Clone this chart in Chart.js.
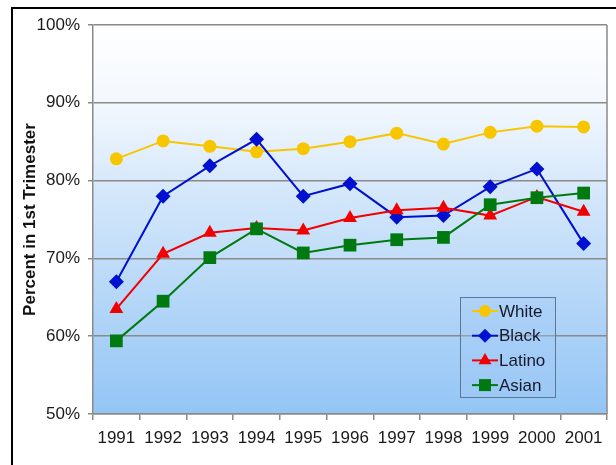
<!DOCTYPE html>
<html>
<head>
<meta charset="utf-8">
<script src="https://cdn.jsdelivr.net/npm/chart.js@4/dist/chart.umd.min.js"></script>
<style>
  html, body { margin: 0; padding: 0; background: #fff; }
  #wrap { position: relative; width: 616px; height: 465px; }
  #frame { position: absolute; left: 11px; top: 7px; width: 610px; height: 470px;
           border-top: 2px solid #000; border-left: 2px solid #000; box-sizing: border-box; }
  canvas { position: absolute; left: 0; top: 0; }
</style>
</head>
<body>
<div id="wrap">
  <div id="frame"></div>
  <canvas id="trimesterChart" width="616" height="465"></canvas>
</div>
<script>
const years = ["1991", "1992", "1993", "1994", "1995", "1996", "1997", "1998", "1999", "2000", "2001"];
const white  = [82.8, 85.1, 84.4, 83.7, 84.1, 85.0, 86.1, 84.7, 86.2, 87.0, 86.9];
const black  = [67.0, 78.0, 81.9, 85.3, 78.0, 79.6, 75.3, 75.5, 79.2, 81.5, 71.9];
const latino = [63.5, 70.6, 73.3, 73.9, 73.6, 75.2, 76.2, 76.5, 75.5, 77.9, 76.0];
const asian  = [59.4, 64.5, 70.1, 73.8, 70.7, 71.7, 72.4, 72.7, 76.9, 77.8, 78.4];
const yTicks = [50, 60, 70, 80, 90, 100];

const FONT = "'Liberation Sans', Arial, sans-serif";

function series(label, data, color, style, radius, order) {
    return {
        label: label,
        data: data,
        borderColor: color,
        backgroundColor: color,
        pointBackgroundColor: color,
        pointBorderColor: color,
        pointBorderWidth: 0,
        pointStyle: style,
        pointRadius: radius,
        pointHoverRadius: radius,
        borderWidth: 2,
        tension: 0,
        order: order
    };
}

// plot background, right border and the legend box
const plotDecor = {
    id: 'plotDecor',
    beforeDraw(chart) {
        let ctx = chart.ctx;
        let a = chart.chartArea;
        let g = ctx.createLinearGradient(0, a.top, 0, a.bottom);
        g.addColorStop(0, '#ffffff');
        g.addColorStop(0.2, '#f3f8fe');
        g.addColorStop(0.4, '#d8e9fb');
        g.addColorStop(1, '#93c5f5');
        ctx.save();
        ctx.fillStyle = g;
        ctx.fillRect(a.left, a.top, a.right - a.left, a.bottom - a.top);
        ctx.restore();
    },
    afterDatasetsDraw(chart) {
        let ctx = chart.ctx;
        let a = chart.chartArea;
        ctx.save();
        ctx.strokeStyle = '#8a8a8a';
        ctx.lineWidth = 1.5;
        ctx.beginPath();
        ctx.moveTo(a.right, a.top);
        ctx.lineTo(a.right, a.bottom);
        ctx.stroke();

        // legend
        let bx = 460, by = 297, bw = 95, bh = 100;
        ctx.fillStyle = 'rgba(160, 200, 245, 0.35)';
        ctx.fillRect(bx, by, bw, bh);
        ctx.strokeStyle = '#5a7896';
        ctx.lineWidth = 1;
        ctx.strokeRect(bx + 0.5, by + 0.5, bw, bh);
        chart.data.datasets.forEach((ds, i) => {
            let y = by + 14 + i * 24.7;
            ctx.strokeStyle = ds.borderColor;
            ctx.lineWidth = 2;
            ctx.beginPath();
            ctx.moveTo(bx + 12, y);
            ctx.lineTo(bx + 38, y);
            ctx.stroke();
            ctx.fillStyle = ds.pointBackgroundColor;
            Chart.helpers.drawPoint(ctx, {
                pointStyle: ds.pointStyle,
                radius: ds.pointRadius - 0.5,
                rotation: 0,
                borderWidth: 0
            }, bx + 25, y);
            ctx.fillStyle = '#161a2c';
            ctx.font = '17px ' + FONT;
            ctx.textBaseline = 'middle';
            ctx.textAlign = 'left';
            ctx.fillText(ds.label, bx + 39, y + 1);
        });
        ctx.restore();
    }
};

let config = {
    type: 'line',
    data: {
        labels: years,
        datasets: [
            series('White', white, '#f7c600', 'circle', 6.5, 3),
            series('Black', black, '#0010d0', 'rectRot', 7.5, 2),
            series('Latino', latino, '#f00000', 'triangle', 8, 1),
            series('Asian', asian, '#007a10', 'rect', 9, 0)
        ]
    },
    options: {
        responsive: false,
        animation: false,
        events: [],
        layout: {
            padding: { left: 0, right: 4, top: 25, bottom: 0 }
        },
        plugins: {
            legend: { display: false },
            tooltip: { enabled: false }
        },
        scales: {
            x: {
                offset: true,
                afterFit: (s) => { s.height = 51; },
                border: { display: true, color: '#8a8a8a', width: 1.5 },
                grid: {
                    drawOnChartArea: false,
                    offset: true,
                    tickLength: 6,
                    color: '#8a8a8a',
                    lineWidth: 1.5
                },
                ticks: {
                    color: '#1a1a1a',
                    padding: 8,
                    maxRotation: 0,
                    font: { family: FONT, size: 17 }
                }
            },
            y: {
                min: 50,
                max: 100,
                afterFit: (s) => { s.width = 93; },
                afterBuildTicks: (s) => { s.ticks = yTicks.map(v => ({ value: v })); },
                border: { display: true, color: '#8a8a8a', width: 1.5 },
                grid: {
                    color: '#8a8a8a',
                    lineWidth: 1.5,
                    tickLength: 5
                },
                ticks: {
                    color: '#1a1a1a',
                    padding: 8,
                    font: { family: FONT, size: 17 },
                    callback: (v) => v + '%'
                },
                title: {
                    display: true,
                    text: 'Percent in 1st Trimester',
                    color: '#111',
                    padding: { top: 20, bottom: 4 },
                    font: { family: FONT, size: 17, weight: 'bold' }
                }
            }
        }
    },
    plugins: [plotDecor]
};

window.trimesterChart = new Chart(document.getElementById('trimesterChart').getContext('2d'), config);
</script>
</body>
</html>
